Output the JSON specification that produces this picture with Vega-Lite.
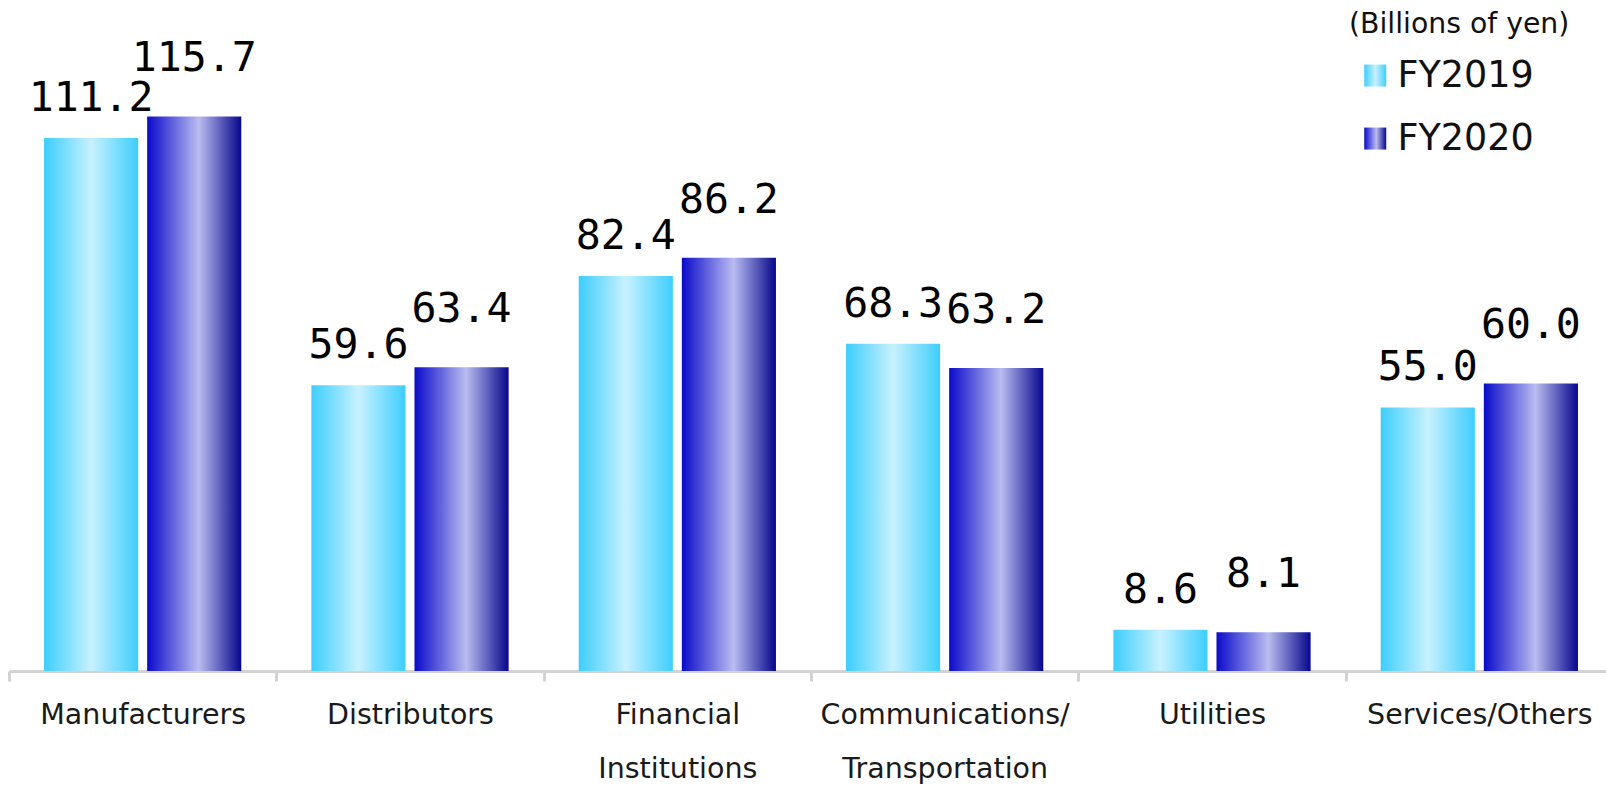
{
  "$schema": "https://vega.github.io/schema/vega-lite/v6.json",
  "width": 1604,
  "height": 671,
  "autosize": {"type": "none"},
  "padding": {"left": 9, "top": 0, "right": -7, "bottom": 114},
  "background": "white",
  "config": {"view": {"stroke": null}, "font": "DejaVu Sans"},
  "data": {
    "values": [
      {"Category": "Manufacturers", "Year": "FY2019", "Value": 111.2},
      {"Category": "Manufacturers", "Year": "FY2020", "Value": 115.7},
      {"Category": "Distributors", "Year": "FY2019", "Value": 59.6},
      {"Category": "Distributors", "Year": "FY2020", "Value": 63.4},
      {"Category": "Financial Institutions", "Year": "FY2019", "Value": 82.4},
      {"Category": "Financial Institutions", "Year": "FY2020", "Value": 86.2},
      {"Category": "Communications/Transportation", "Year": "FY2019", "Value": 68.3},
      {"Category": "Communications/Transportation", "Year": "FY2020", "Value": 63.2},
      {"Category": "Utilities", "Year": "FY2019", "Value": 8.6},
      {"Category": "Utilities", "Year": "FY2020", "Value": 8.1},
      {"Category": "Services/Others", "Year": "FY2019", "Value": 55.0},
      {"Category": "Services/Others", "Year": "FY2020", "Value": 60.0}
    ]
  },
  "encoding": {
    "x": {
      "field": "Category",
      "type": "nominal",
      "sort": ["Manufacturers", "Distributors", "Financial Institutions", "Communications/Transportation", "Utilities", "Services/Others"],
      "scale": {"paddingInner": 0, "paddingOuter": 0},
      "axis": {
        "title": null,
        "labelAngle": 0,
        "labelFont": "DejaVu Sans",
        "labelFontSize": 28.5,
        "labelColor": "#1a1a1a",
        "labelBaseline": "alphabetic",
        "labelPadding": 42,
        "labelLineHeight": 54,
        "labelOverlap": false,
        "labelLimit": 400,
        "labelExpr": "datum.value == 'Financial Institutions' ? ['Financial', 'Institutions'] : datum.value == 'Communications/Transportation' ? ['Communications/', 'Transportation'] : datum.value",
        "domainColor": "#d3d3d3",
        "domainWidth": 3,
        "tickColor": "#d3d3d3",
        "tickWidth": 3,
        "tickSize": 10,
        "tickBand": "extent"
      }
    },
    "xOffset": {"field": "Year", "type": "nominal", "scale": {"domain": ["FY2019", "FY2020"], "paddingInner": 0.087, "paddingOuter": 0.34}},
    "y": {"field": "Value", "type": "quantitative", "scale": {"domain": [0, 140]}, "axis": null}
  },
  "layer": [
    {
      "transform": [{"filter": "datum.Year == 'FY2019'"}],
      "mark": {
        "type": "bar",
        "strokeWidth": 0,
        "fill": {"gradient": "linear", "x1": 0, "y1": 0, "x2": 1, "y2": 0, "stops": [{"offset": 0, "color": "#3ccefd"}, {"offset": 0.5, "color": "#c8f1ff"}, {"offset": 1, "color": "#3dcefd"}]}
      },
      "encoding": {
        "stroke": {
          "field": "Year",
          "type": "nominal",
          "scale": {"domain": ["FY2019", "FY2020"], "range": ["#5fd8ff", "#4646c8"]},
          "legend": {
            "orient": "none",
            "legendX": 1340,
            "legendY": 11,
            "title": "(Billions of yen)",
            "titleFont": "DejaVu Sans",
            "titleFontSize": 28.3,
            "titleFontWeight": "normal",
            "titleColor": "#111111",
            "titleLimit": 500,
            "titlePadding": 18,
            "labelFont": "DejaVu Sans",
            "labelFontSize": 36.5,
            "labelColor": "#111111",
            "labelLimit": 300,
            "symbolType": "square",
            "symbolSize": 484,
            "symbolOffset": 8,
            "labelOffset": 4,
            "rowPadding": 26,
            "padding": 0,
            "symbolStrokeWidth": 0,
            "encoding": {
              "symbols": {
                "fill": {"value": {"expr": "datum.value == 'FY2019' ? {gradient: 'linear', x1: 0, y1: 0, x2: 1, y2: 0, stops: [{offset: 0, color: '#3ccefd'}, {offset: 0.5, color: '#c8f1ff'}, {offset: 1, color: '#3dcefd'}]} : {gradient: 'linear', x1: 0, y1: 0, x2: 1, y2: 0, stops: [{offset: 0, color: '#0a0acb'}, {offset: 0.55, color: '#babcf0'}, {offset: 1, color: '#07078c'}]}"}},
                "strokeWidth": {"value": 0},
                "opacity": {"value": 1}
              }
            }
          }
        }
      }
    },
    {
      "transform": [{"filter": "datum.Year == 'FY2020'"}],
      "mark": {
        "type": "bar",
        "strokeWidth": 0,
        "fill": {"gradient": "linear", "x1": 0, "y1": 0, "x2": 1, "y2": 0, "stops": [{"offset": 0, "color": "#0a0acb"}, {"offset": 0.55, "color": "#babcf0"}, {"offset": 1, "color": "#07078c"}]}
      },
      "encoding": {
        "stroke": {"field": "Year", "type": "nominal"}
      }
    },
    {
      "transform": [{"filter": "datum.Year == 'FY2019'"}],
      "mark": {"type": "text", "baseline": "alphabetic", "dy": -27, "font": "DejaVu Sans Mono", "fontSize": 41.5, "color": "#000000"},
      "encoding": {"text": {"field": "Value", "type": "quantitative", "format": ".1f"}}
    },
    {
      "transform": [{"filter": "datum.Year == 'FY2020'"}],
      "mark": {"type": "text", "baseline": "alphabetic", "dy": -45, "font": "DejaVu Sans Mono", "fontSize": 41.5, "color": "#000000"},
      "encoding": {"text": {"field": "Value", "type": "quantitative", "format": ".1f"}}
    }
  ]
}
